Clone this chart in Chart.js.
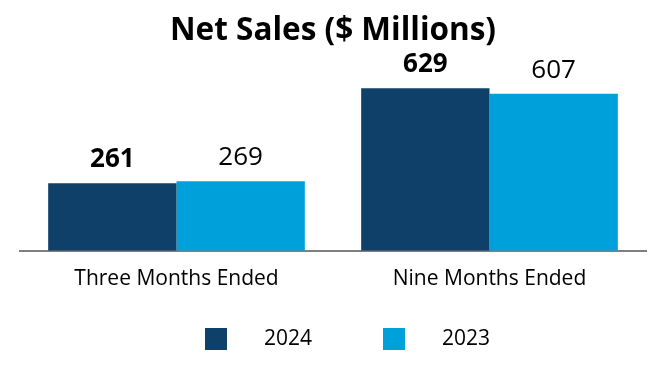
<!DOCTYPE html>
<html>
<head>
<meta charset="utf-8">
<script src="https://cdn.jsdelivr.net/npm/chart.js@4/dist/chart.umd.min.js"></script>
<style>
  html, body { margin: 0; padding: 0; background: #fff; }
  #wrap { width: 666px; height: 380px; }
</style>
</head>
<body>
<div id="wrap"><canvas id="salesChart"></canvas></div>
<script>
const categories = ['Three Months Ended', 'Nine Months Ended'];
const seriesNames = ['2024', '2023'];
const sales2024 = [261, 629];
const sales2023 = [269, 607];

const colors = ['#0f4069', '#00a0db'];

// value labels above each bar, 2024 in bold
const barValues = {
  id: 'barValues',
  afterDatasetsDraw(chart) {
    const ctx = chart.ctx;
    chart.data.datasets.forEach((ds, i) => {
      const meta = chart.getDatasetMeta(i);
      ctx.save();
      ctx.fillStyle = '#000';
      ctx.textAlign = 'center';
      ctx.textBaseline = 'alphabetic';
      ctx.font = (i === 0 ? 'bold ' : '') + '26px "Open Sans"';
      meta.data.forEach((bar, j) => {
        ctx.fillText(String(ds.data[j]), bar.x, bar.y - 16);
      });
      ctx.restore();
    });
  }
};

// legend drawn below the axis, square swatch then a wide gap before the text
const bottomLegend = {
  id: 'bottomLegend',
  afterDraw(chart) {
    const ctx = chart.ctx;
    const starts = [205, 383];
    ctx.save();
    ctx.font = '21px "Open Sans"';
    ctx.textBaseline = 'middle';
    ctx.textAlign = 'left';
    chart.data.datasets.forEach((ds, i) => {
      const x = starts[i];
      ctx.fillStyle = ds.backgroundColor;
      ctx.fillRect(x, 328, 22, 22);
      ctx.fillStyle = '#000';
      ctx.fillText(ds.label, x + 59, 339);
    });
    ctx.restore();
  }
};

new Chart(document.getElementById('salesChart'), {
  type: 'bar',
  data: {
    labels: categories,
    datasets: [{
      label: seriesNames[0],
      data: sales2024,
      backgroundColor: colors[0]
    }, {
      label: seriesNames[1],
      data: sales2023,
      backgroundColor: colors[1]
    }]
  },
  options: {
    responsive: true,
    maintainAspectRatio: false,
    animation: false,
    datasets: {
      bar: { categoryPercentage: 0.82, barPercentage: 1.0 }
    },
    layout: {
      padding: { left: 20, right: 20, top: 0, bottom: 72 }
    },
    scales: {
      x: {
        grid: { display: false, drawTicks: false },
        border: { display: true, color: '#7f7f7f', width: 2 },
        ticks: {
          color: '#000',
          padding: 16,
          font: { family: 'Open Sans', size: 21 }
        }
      },
      y: {
        display: false,
        min: 0,
        max: 700
      }
    },
    plugins: {
      legend: { display: false },
      tooltip: { enabled: false },
      title: {
        display: true,
        text: 'Net Sales ($ Millions)',
        color: '#000',
        font: { family: 'Open Sans', size: 31.5, weight: 'bold' },
        padding: { top: 12, bottom: 20 }
      }
    }
  },
  plugins: [barValues, bottomLegend]
});
</script>
</body>
</html>
